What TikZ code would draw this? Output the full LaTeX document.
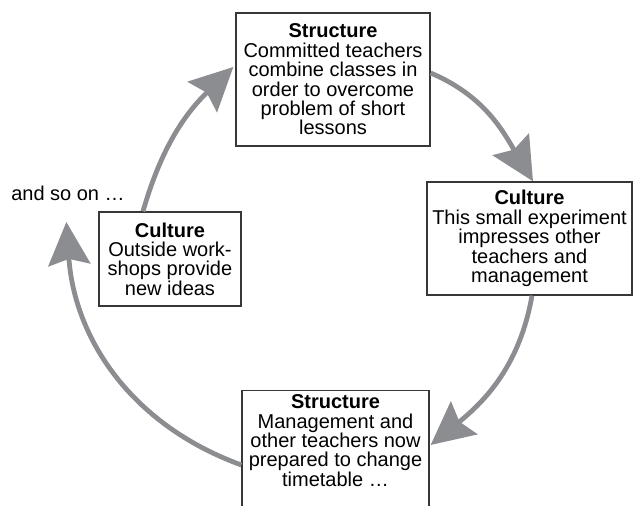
\documentclass[tikz,border=0pt]{standalone}
\usepackage{fontspec}
\setmainfont{Liberation Sans}
\usetikzlibrary{positioning, arrows.meta, calc}
\definecolor{cyclegray}{RGB}{140,141,145}
\definecolor{boxline}{RGB}{55,55,55}

\begin{document}
\begin{tikzpicture}[x=0.5pt, y=0.5pt, font=\fontsize{10}{9.7}\selectfont,
  box/.style = {draw=boxline, line width=0.65pt, align=center, inner sep=2pt, fill=white},
  cycle/.style = {draw=cyclegray, line width=2.4pt, -{Stealth[length=21.5pt, width=21pt, inset=3pt]}}]
    \useasboundingbox (0,0) rectangle (633,506);
    \node[box, minimum width=97pt, minimum height=66.5pt] (s1) at (333,426.5) {\textbf{Structure}\\Committed teachers\\combine classes in\\order to overcome\\problem of short\\lessons};
    \node[box, inner xsep=1pt, minimum width=102.5pt, minimum height=56.5pt] (c1) at (529.5,267.5) {\textbf{Culture}\\This small experiment\\impresses other\\teachers and\\management};
    \node[box, minimum width=93.5pt, text depth=60pt, anchor=north] (s2) at (335.5,116) {\textbf{Structure}\\Management and\\other teachers now\\prepared to change\\timetable …};
    \node[box, minimum width=71pt, minimum height=47pt] (c2) at (170,247) {\textbf{Culture}\\Outside work-\\shops provide\\new ideas};
    \node (more) at (68,313) {and so on …};
    % the cycle
    \draw[cycle] ($(c2.north)+(-27,0)$) to[out=74, in=224] ($(s1.west)+(-2,12.5)$);
    \draw[cycle] ($(s1.east)+(0,6.5)$) to[out=-23, in=121] ($(c1.north)+(3.5,0)$);
    \draw[cycle] ($(c1.south)+(2.5,0)$) to[out=-100, in=39] ($(s2.north east)+(1,-55)$);
    \draw[cycle] ($(s2.north west)+(0,-75)$) to[out=160, in=-86] ($(c2.west)+(-32,37)$);
\end{tikzpicture}
\end{document}
